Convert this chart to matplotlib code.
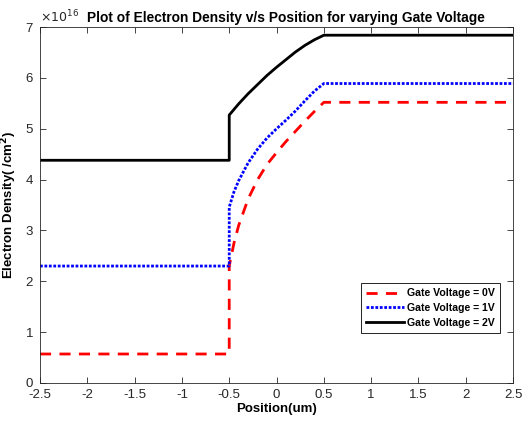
import numpy as np
import matplotlib
matplotlib.use("Agg")
import matplotlib.pyplot as plt

plt.rcParams['font.family'] = ['Liberation Sans', 'DejaVu Sans']

# positions (um) and densities (x1e16 /cm^2)
x_curve = [-0.5, -0.45, -0.4, -0.3, -0.2, -0.1, 0.0, 0.1, 0.2, 0.3, 0.4, 0.5]
n_0v_flat = 0.57
n_0v_curve = [2.30, 2.75, 3.10, 3.62, 4.00, 4.30, 4.53, 4.75, 4.95, 5.15, 5.34, 5.52]
n_1v_flat = 2.30
n_1v_curve = [3.46, 3.76, 3.98, 4.33, 4.60, 4.82, 5.00, 5.17, 5.35, 5.55, 5.74, 5.89]
n_2v_flat = 4.38
n_2v_curve = [5.27, 5.38, 5.49, 5.69, 5.87, 6.05, 6.21, 6.36, 6.51, 6.64, 6.75, 6.84]
labels = ["Gate Voltage = 0V", "Gate Voltage = 1V", "Gate Voltage = 2V"]

x_left, x_right = -2.5, 2.5


def build(flat, curve):
    xs = [x_left, x_curve[0]] + list(x_curve) + [x_right]
    ys = [flat, flat] + list(curve) + [curve[-1]]
    return np.array(xs), np.array(ys)


fig = plt.figure(figsize=(5.23, 4.23), dpi=100)
ax = fig.add_axes([0.0765, 0.0946, 0.9045, 0.8414])

gray = '#262626'
x0, y0 = build(n_0v_flat, n_0v_curve)
x1, y1 = build(n_1v_flat, n_1v_curve)
x2, y2 = build(n_2v_flat, n_2v_curve)
ax.plot(x0, y0, color='#ff0000', linestyle=(0, (4, 3)), linewidth=2, label=labels[0])
ax.plot(x1, y1, color='#0000ff', linestyle=(0, (1, 0.6)), linewidth=2, label=labels[1])
ax.plot(x2, y2, color='black', linestyle='-', linewidth=2, label=labels[2])

ax.set_xlim(-2.5, 2.5)
ax.set_ylim(0, 7)
ax.set_xticks(np.arange(-2.5, 2.51, 0.5))
ax.set_xticklabels(['-2.5', '-2', '-1.5', '-1', '-0.5', '0', '0.5', '1', '1.5', '2', '2.5'])
ax.set_yticks(range(0, 8))
ax.tick_params(direction='in', top=True, right=True, labelsize=9.5, colors=gray,
               length=4, width=0.6)
ax.tick_params(axis='y', pad=5)
ax.tick_params(axis='x', pad=4.5)
for s in ax.spines.values():
    s.set_color(gray)
    s.set_linewidth(0.6)

ax.text(0.0, 1.004, r'$\times10^{16}$', transform=ax.transAxes, fontsize=9,
        color=gray, ha='left', va='bottom')
# title sits a little right of centre, clear of the exponent label
ax.set_title('Plot of Electron Density v/s Position for varying Gate Voltage',
             fontsize=9.9, fontweight='bold', pad=4, x=0.52)
ax.set_xlabel('Position(um)', fontsize=9.5, fontweight='bold', labelpad=1)
ax.set_ylabel('Electron Density( /cm$^\\mathbf{2}$)', fontsize=9.5, fontweight='bold', labelpad=5)

leg = ax.legend(loc='lower right', bbox_to_anchor=(0.972, 0.14), borderaxespad=0,
                prop={'weight': 'bold', 'size': 7.6}, fancybox=False, framealpha=1,
                edgecolor='black', handlelength=3.6, handletextpad=0.25,
                borderpad=0.5, labelspacing=0.45)
leg.get_frame().set_linewidth(0.6)

fig.savefig('out.png', dpi=100)
